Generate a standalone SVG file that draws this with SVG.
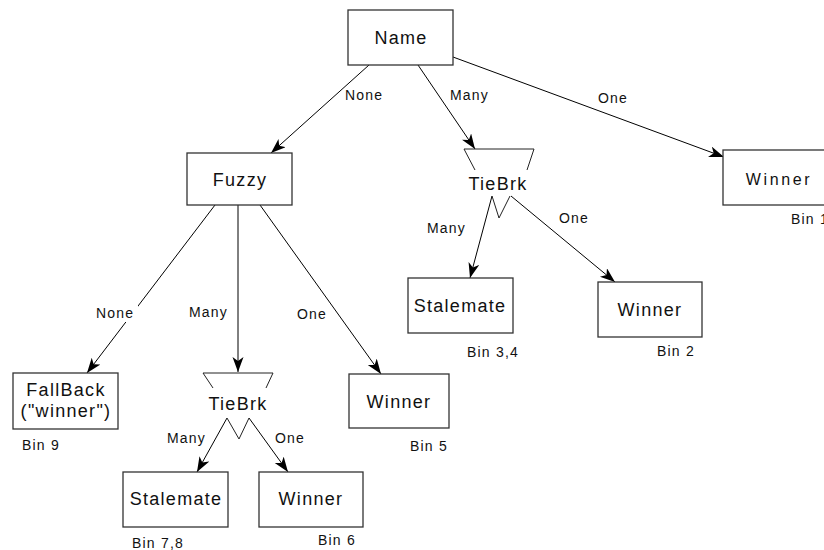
<svg xmlns="http://www.w3.org/2000/svg" width="824" height="550" viewBox="0 0 824 550">
<style>
.box{fill:#fff;stroke:#333;stroke-width:1.3}
.tb{fill:none;stroke:#222;stroke-width:1}
.edge{fill:none;stroke:#000;stroke-width:1;marker-end:url(#ah)}
.t{font-family:"Liberation Sans",Arial,sans-serif;font-size:18px;fill:#111;text-anchor:middle;letter-spacing:1.3px}
.l{font-family:"Liberation Sans",Arial,sans-serif;font-size:14px;fill:#111;letter-spacing:1.2px}
</style>
<defs>
<marker id="ah" markerUnits="userSpaceOnUse" markerWidth="16" markerHeight="12" refX="15" refY="5.5" orient="auto">
<path d="M0,0 L15,5.5 L0,11 L4,5.5 z" fill="#000"/>
</marker>
</defs>
<rect width="824" height="550" fill="#fff"/>
<g id="connectors">
<line class="edge" x1="369" y1="65" x2="271" y2="153"/>
<line class="edge" x1="418" y1="65" x2="475" y2="149"/>
<line class="edge" x1="453" y1="57" x2="724" y2="157"/>
<line class="edge" x1="492" y1="196" x2="470" y2="278"/>
<line class="edge" x1="511" y1="196" x2="615" y2="282"/>
<line class="edge" x1="215" y1="205" x2="87" y2="373"/>
<line class="edge" x1="238" y1="205" x2="238" y2="372"/>
<line class="edge" x1="260" y1="205" x2="381" y2="374"/>
<line class="edge" x1="227" y1="418" x2="197" y2="472"/>
<line class="edge" x1="249" y1="418" x2="288" y2="472"/>
<g id="edge-labels">
<text class="l" x="345" y="100">None</text>
<text class="l" x="450" y="100">Many</text>
<text class="l" x="598" y="103">One</text>
<text class="l" x="427" y="233">Many</text>
<text class="l" x="559" y="223">One</text>
<rect x="94" y="303" width="44" height="19" fill="#fff"/>
<text class="l" x="96" y="318">None</text>
<text class="l" x="189" y="317">Many</text>
<text class="l" x="297" y="319">One</text>
<text class="l" x="167" y="443">Many</text>
<text class="l" x="275" y="443">One</text>
</g>
</g>
<g id="name">
<rect class="box" x="348" y="10" width="105" height="55"/>
<text class="t" x="401" y="44">Name</text>
</g>
<g id="fuzzy">
<rect class="box" x="187" y="153" width="105" height="52"/>
<text class="t" x="240" y="186">Fuzzy</text>
</g>
<g id="winner1">
<rect class="box" x="723" y="150" width="105" height="55"/>
<text class="t" x="779" y="185" style="font-size:16px;letter-spacing:2.6px">Winner</text>
<text class="l" x="791" y="224">Bin 1</text>
</g>
<g id="tiebrk1">
<path class="tb" d="M464,149 L534,149 M464,149 L475,170 M534,149 L527,170 M492,196 L499,218 L510,196"/>
<text class="t" x="498" y="190">TieBrk</text>
</g>
<g id="stalemate1">
<rect class="box" x="408" y="278" width="105" height="55"/>
<text class="t" x="460" y="312">Stalemate</text>
<text class="l" x="467" y="357">Bin 3,4</text>
</g>
<g id="winner2">
<rect class="box" x="598" y="282" width="104" height="55"/>
<text class="t" x="650" y="316">Winner</text>
<text class="l" x="657" y="356">Bin 2</text>
</g>
<g id="fallback">
<rect class="box" x="13" y="373" width="105" height="56"/>
<text class="t" x="66" y="396">FallBack</text>
<text class="t" x="66" y="417">("winner")</text>
<text class="l" x="22" y="450">Bin 9</text>
</g>
<g id="tiebrk2">
<path class="tb" d="M203,373 L273,373 M203,373 L213,388 M273,373 L266,388 M227,418 L239,439 L249,418"/>
<text class="t" x="238" y="410">TieBrk</text>
</g>
<g id="winner5">
<rect class="box" x="349" y="374" width="100" height="54"/>
<text class="t" x="399" y="408">Winner</text>
<text class="l" x="410" y="451">Bin 5</text>
</g>
<g id="stalemate2">
<rect class="box" x="123" y="472" width="105" height="55"/>
<text class="t" x="176" y="505">Stalemate</text>
<text class="l" x="132" y="548">Bin 7,8</text>
</g>
<g id="winner6">
<rect class="box" x="259" y="472" width="104" height="55"/>
<text class="t" x="311" y="505">Winner</text>
<text class="l" x="318" y="545">Bin 6</text>
</g>
</svg>
